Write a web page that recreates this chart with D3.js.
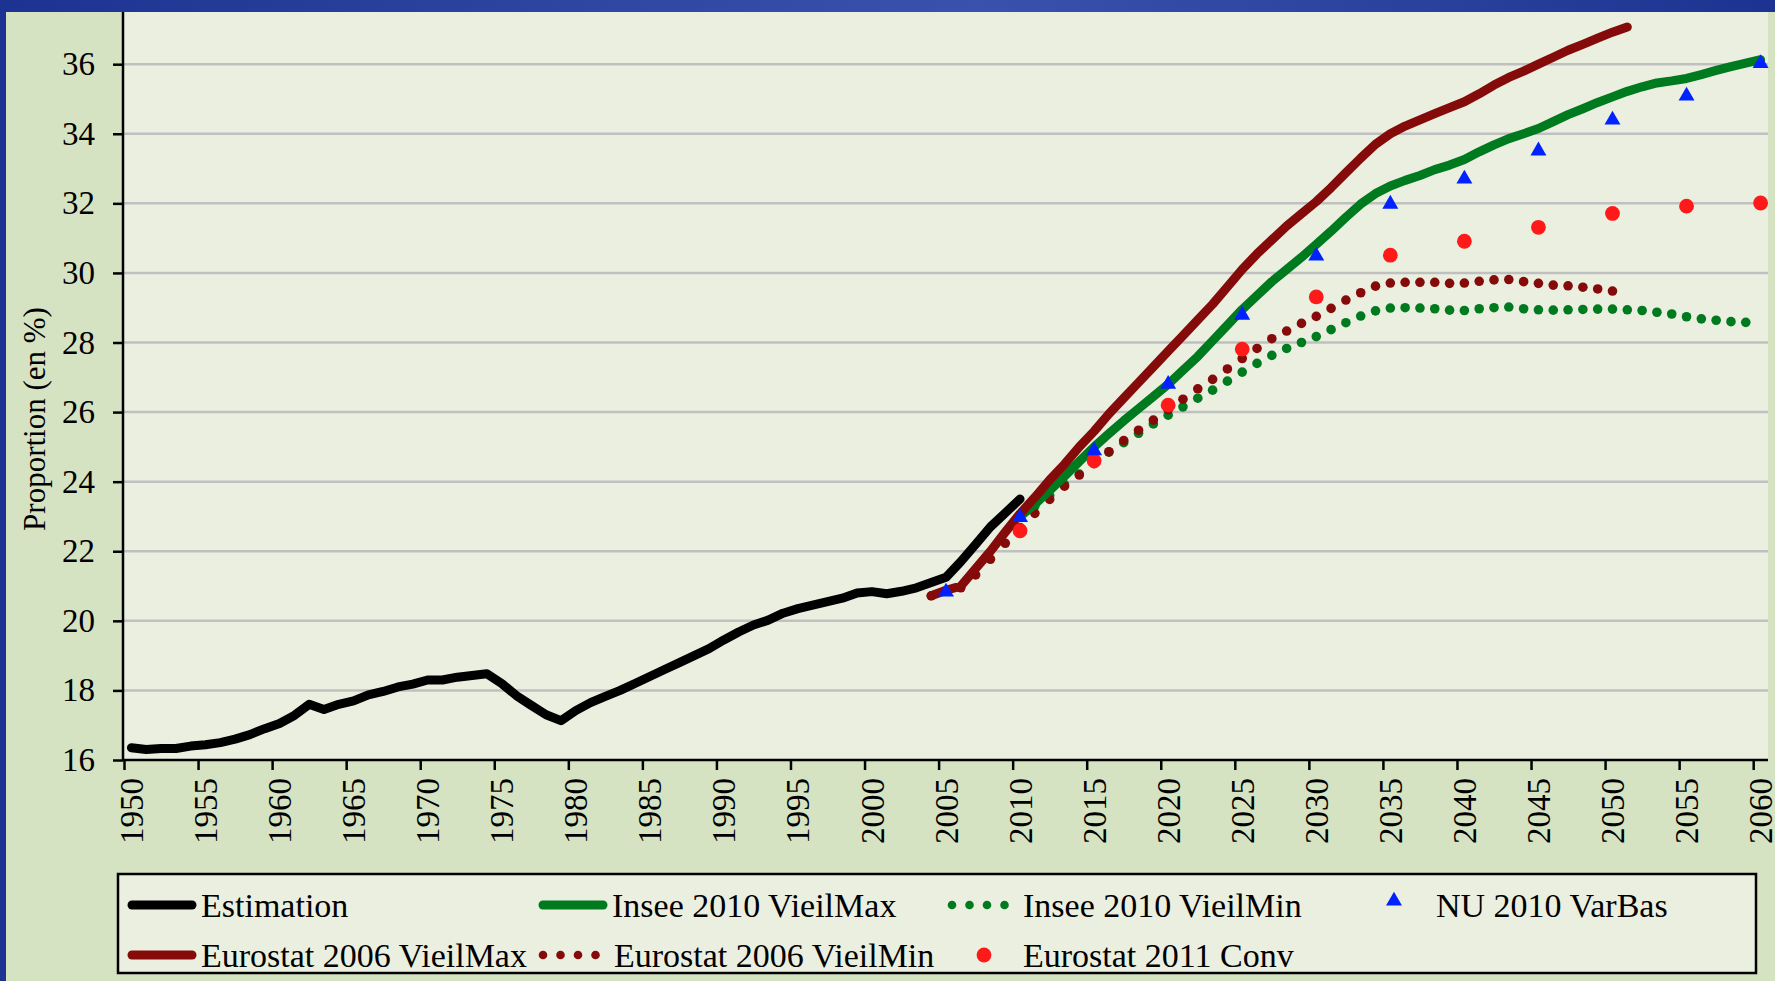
<!DOCTYPE html>
<html>
<head>
<meta charset="utf-8">
<script src="https://cdn.jsdelivr.net/npm/d3@7"></script>
<style>
  html, body { margin: 0; padding: 0; background: #D6E3C3; }
  svg { display: block; font-family: "Liberation Serif", "Times New Roman", serif; }
</style>
</head>
<body>
<svg id="chart" width="1775" height="981"></svg>
<script>
// data (percent)
const estStart = 1950;
const estimation = [16.35, 16.3, 16.33, 16.33, 16.4, 16.44, 16.5, 16.6, 16.73, 16.9,
  17.05, 17.28, 17.6, 17.45, 17.6, 17.7, 17.87, 17.97, 18.1, 18.18,
  18.3, 18.3, 18.38, 18.43, 18.48, 18.2, 17.85, 17.57, 17.3, 17.13,
  17.42, 17.65, 17.83, 18.0, 18.2, 18.4, 18.6, 18.8, 19.0, 19.2,
  19.45, 19.68, 19.88, 20.02, 20.22, 20.35, 20.45, 20.55, 20.65, 20.8,
  20.84, 20.78, 20.85, 20.95, 21.1, 21.25, 21.7, 22.2, 22.7, 23.1, 23.5];

const euroMaxStart = 2004;
const eurostatVieilMax = [20.72, 20.88, 21.0, 21.5, 22.0, 22.55, 23.08, 23.55, 24.05, 24.5,
  25.0, 25.45, 25.95, 26.4, 26.85, 27.3, 27.75, 28.2, 28.65, 29.1,
  29.6, 30.1, 30.55, 30.95, 31.35, 31.7, 32.05, 32.45, 32.88, 33.3,
  33.7, 34.0, 34.22, 34.4, 34.58, 34.75, 34.92, 35.15, 35.4, 35.62,
  35.8, 36.0, 36.2, 36.4, 36.57, 36.75, 36.92, 37.07];

const euroMinStart = 2004;
const eurostatVieilMin = [20.72, 20.85, 20.95, 21.32, 21.77, 22.23, 22.68, 23.09, 23.49, 23.87,
  24.19, 24.52, 24.86, 25.18, 25.48, 25.77, 26.07, 26.37, 26.67, 26.94,
  27.24, 27.54, 27.83, 28.11, 28.33, 28.55, 28.75, 28.98, 29.22, 29.43,
  29.62, 29.71, 29.73, 29.73, 29.73, 29.7, 29.71, 29.76, 29.8, 29.81,
  29.75, 29.7, 29.65, 29.63, 29.59, 29.54, 29.48];

const inseeMaxStart = 2010;
const inseeVieilMax = [23.0, 23.35, 23.75, 24.15, 24.58, 25.0, 25.38, 25.75, 26.1, 26.45,
  26.8, 27.2, 27.6, 28.05, 28.5, 28.95, 29.35, 29.75, 30.1, 30.45,
  30.82, 31.2, 31.6, 31.98, 32.28, 32.5, 32.66, 32.8, 32.97, 33.1,
  33.26, 33.48, 33.68, 33.86, 34.0, 34.15, 34.35, 34.55, 34.72, 34.9,
  35.06, 35.22, 35.35, 35.46, 35.52, 35.59, 35.7, 35.82, 35.93, 36.03, 36.13];

const inseeMinStart = 2010;
const inseeVieilMin = [23.0, 23.3, 23.6, 23.92, 24.22, 24.55, 24.85, 25.12, 25.39, 25.66,
  25.91, 26.15, 26.4, 26.63, 26.89, 27.15, 27.4, 27.63, 27.83, 28.0,
  28.17, 28.37, 28.57, 28.76, 28.91, 28.99, 29.0, 28.99, 28.97, 28.93,
  28.92, 28.97, 29.0, 29.02, 28.97, 28.94, 28.93, 28.94, 28.95, 28.96,
  28.96, 28.94, 28.92, 28.87, 28.82, 28.74, 28.68, 28.64, 28.6, 28.58];

const fiveYears = [2005, 2010, 2015, 2020, 2025, 2030, 2035, 2040, 2045, 2050, 2055, 2060];
const nuVarBas = [20.83, 22.97, 24.89, 26.8, 28.79, 30.49, 31.98, 32.7, 33.51, 34.4, 35.09, 36.02];
const conv2011 = [null, 22.59, 24.6, 26.2, 27.81, 29.31, 30.51, 30.91, 31.31, 31.71, 31.92, 32.01];

const yTicks = [16, 18, 20, 22, 24, 26, 28, 30, 32, 34, 36];
const xLabels = d3.range(1950, 2061, 5);

const legendItems = [
  {name: 'Estimation', kind: 'line', color: '#000000', col: 0, row: 0},
  {name: 'Insee 2010 VieilMax', kind: 'line', color: '#007A1E', col: 1, row: 0},
  {name: 'Insee 2010 VieilMin', kind: 'dots', color: '#007A1E', col: 2, row: 0},
  {name: 'NU 2010 VarBas', kind: 'tri', color: '#0022FF', col: 3, row: 0},
  {name: 'Eurostat 2006 VieilMax', kind: 'line', color: '#850A0A', col: 0, row: 1},
  {name: 'Eurostat 2006 VieilMin', kind: 'dots', color: '#850A0A', col: 1, row: 1},
  {name: 'Eurostat 2011 Conv', kind: 'circle', color: '#FF1A1A', col: 2, row: 1}
];

const toPts = (start, vals) => vals.map((v, i) => [start + i, v]).filter(d => d[1] != null);

const svg = d3.select('#chart');
const plot = {left: 124, right: 1768, top: 12, bottom: 760};

const x = d3.scaleLinear().domain([1949.5, 2060.5]).range([plot.left, plot.right]);
const y = d3.scaleLinear().domain([16, 37.5]).range([plot.bottom, plot.top]);

// background: blue frame + green chart area
const defs = svg.append('defs');
const grad = defs.append('linearGradient').attr('id', 'band').attr('x1', 0).attr('x2', 1);
grad.append('stop').attr('offset', '0%').attr('stop-color', '#1D3391');
grad.append('stop').attr('offset', '55%').attr('stop-color', '#3A52AE');
grad.append('stop').attr('offset', '100%').attr('stop-color', '#1D3391');

svg.append('rect').attr('width', 1775).attr('height', 981).attr('fill', '#D6E3C3');
svg.append('rect').attr('width', 1775).attr('height', 12).attr('fill', 'url(#band)');
svg.append('rect').attr('y', 0).attr('width', 6).attr('height', 981).attr('fill', '#1D3391');

svg.append('rect')
  .attr('x', plot.left).attr('y', plot.top)
  .attr('width', plot.right - plot.left).attr('height', plot.bottom - plot.top)
  .attr('fill', '#EBEFE0');

// gridlines
svg.append('g').selectAll('line')
  .data(yTicks.filter(t => t > 16))
  .enter().append('line')
  .attr('x1', plot.left).attr('x2', plot.right)
  .attr('y1', d => y(d)).attr('y2', d => y(d))
  .style('stroke', '#C0C0C0')
  .style('stroke-width', 2.5);

// y axis
const yAxis = svg.append('g')
  .attr('transform', `translate(${plot.left - 1},0)`)
  .call(d3.axisLeft(y).tickValues(yTicks).tickSize(10).tickPadding(18).tickSizeOuter(0));
yAxis.select('.domain').remove();
yAxis.selectAll('line').style('stroke', '#000').style('stroke-width', 2.5);
yAxis.selectAll('text').style('font-size', '33px').style('fill', '#000')
  .style('font-family', '"Liberation Serif", serif');

// x axis: ticks between categories, labels on categories
const xAxis = svg.append('g')
  .attr('transform', `translate(0,${plot.bottom})`)
  .call(d3.axisBottom(x).tickValues(xLabels.map(d => d - 0.5)).tickSize(10).tickFormat('').tickSizeOuter(0));
xAxis.select('.domain').remove();
xAxis.selectAll('line').style('stroke', '#000').style('stroke-width', 2.5);

svg.append('g').selectAll('text')
  .data(xLabels)
  .enter().append('text')
  .attr('transform', d => `translate(${x(d)},${plot.bottom + 18}) rotate(-90)`)
  .attr('dy', '0.35em')
  .attr('text-anchor', 'end')
  .style('font-size', '33px')
  .text(d => d);

svg.append('line')
  .attr('x1', plot.left - 1).attr('x2', plot.left - 1)
  .attr('y1', plot.top).attr('y2', plot.bottom + 1)
  .style('stroke', '#000').style('stroke-width', 2.5);
svg.append('line')
  .attr('x1', plot.left - 2).attr('x2', plot.right)
  .attr('y1', plot.bottom).attr('y2', plot.bottom)
  .style('stroke', '#000').style('stroke-width', 2.5);

// y title
svg.append('text')
  .attr('transform', `translate(34,419) rotate(-90)`)
  .attr('dy', '0.35em')
  .attr('text-anchor', 'middle')
  .style('font-size', '31px')
  .text('Proportion (en %)');

// series
const line = d3.line().x(d => x(d[0])).y(d => y(d[1]));
const series = svg.append('g');

function drawLine(pts, color) {
  series.append('path')
    .datum(pts)
    .attr('d', line)
    .style('fill', 'none')
    .style('stroke', color)
    .style('stroke-width', 9)
    .style('stroke-linecap', 'round')
    .style('stroke-linejoin', 'round');
}
function drawDots(pts, color) {
  series.append('g').selectAll('circle')
    .data(pts)
    .enter().append('circle')
    .attr('cx', d => x(d[0])).attr('cy', d => y(d[1]))
    .attr('r', 4.8)
    .style('fill', color);
}

drawDots(toPts(inseeMinStart, inseeVieilMin), '#007A1E');
drawDots(toPts(euroMinStart, eurostatVieilMin), '#850A0A');
drawLine(toPts(inseeMaxStart, inseeVieilMax), '#007A1E');
drawLine(toPts(euroMaxStart, eurostatVieilMax), '#850A0A');
drawLine(toPts(estStart, estimation), '#000000');

series.append('g').selectAll('circle')
  .data(fiveYears.map((yr, i) => [yr, conv2011[i]]).filter(d => d[1] != null))
  .enter().append('circle')
  .attr('cx', d => x(d[0])).attr('cy', d => y(d[1]))
  .attr('r', 7.4)
  .style('fill', '#FF1A1A');

const tri = d3.symbol().type(d3.symbolTriangle).size(110);
series.append('g').selectAll('path')
  .data(fiveYears.map((yr, i) => [yr, nuVarBas[i]]))
  .enter().append('path')
  .attr('d', tri)
  .attr('transform', d => `translate(${x(d[0])},${y(d[1])})`)
  .style('fill', '#0022FF');

// legend
const legend = svg.append('g');
legend.append('rect')
  .attr('x', 118).attr('y', 874).attr('width', 1638).attr('height', 99)
  .style('fill', '#EBEFE0').style('stroke', '#000').style('stroke-width', 2.5);

const colSym = [129, 540, 949, 1360];
const rowY = [905, 955];
const symW = 66;

legendItems.forEach(it => {
  const sx = colSym[it.col];
  const cy = rowY[it.row];
  const g = legend.append('g');
  if (it.kind === 'line') {
    g.append('line').attr('x1', sx + 3).attr('x2', sx + symW - 3).attr('y1', cy).attr('y2', cy)
      .style('stroke', it.color).style('stroke-width', 9).style('stroke-linecap', 'round');
  } else if (it.kind === 'dots') {
    g.selectAll('circle').data([0, 1, 2, 3]).enter().append('circle')
      .attr('cx', d => sx + 3 + d * 17.5).attr('cy', cy).attr('r', 4.3)
      .style('fill', it.color);
  } else if (it.kind === 'circle') {
    g.append('circle').attr('cx', sx + 35).attr('cy', cy).attr('r', 7.4).style('fill', it.color);
  } else {
    g.append('path').attr('d', tri).attr('transform', `translate(${sx + 34},${cy - 4})`)
      .style('fill', it.color);
  }
  g.append('text')
    .attr('x', it.kind === 'line' ? sx + symW + 6 : sx + (it.col === 3 ? 76 : 74))
    .attr('y', cy)
    .attr('dy', '0.35em')
    .style('font-size', '34px')
    .text(it.name);
});
</script>
</body>
</html>
